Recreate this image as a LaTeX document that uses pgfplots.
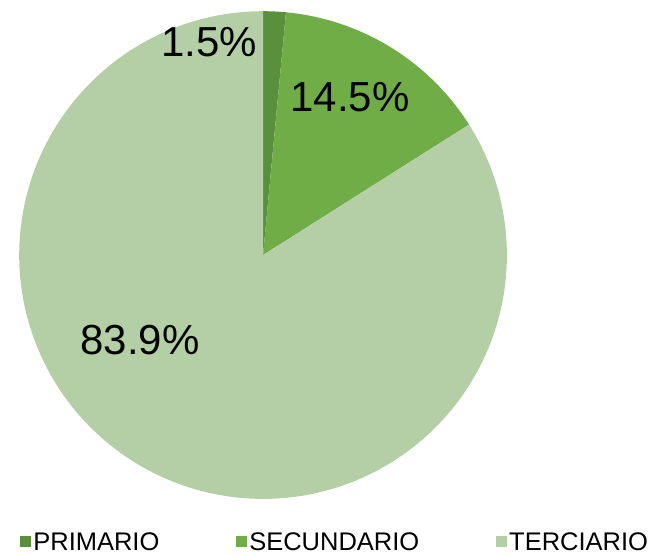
\documentclass[border=0pt]{standalone}
\usepackage{pgfplots}
\pgfplotsset{compat=1.18}
\usepackage{fontspec}
\setmainfont{Liberation Sans}
\definecolor{cPri}{HTML}{5A8F3C}
\definecolor{cSec}{HTML}{70AD47}
\definecolor{cTer}{HTML}{B4CEA6}
\begin{document}
\begin{tikzpicture}
\pgfmathsetmacro{\vA}{1.5}
\pgfmathsetmacro{\vB}{14.5}
\pgfmathsetmacro{\vC}{83.9}
\pgfmathsetmacro{\tot}{\vA+\vB+\vC}
\pgfmathsetmacro{\aA}{90}
\pgfmathsetmacro{\aB}{90-360*\vA/\tot}
\pgfmathsetmacro{\aC}{\aB-360*\vB/\tot}
\pgfmathsetmacro{\aD}{90-360}
\begin{axis}[
  x=1pt, y=1pt, xmin=0, xmax=658, ymin=0, ymax=555,
  hide axis, clip=false,
  legend columns=3,
  legend cell align=left,
  legend style={at={(axis cs:20,13)}, anchor=west, draw=none, fill=none,
    font=\fontsize{25.5}{29}\selectfont, inner sep=0pt,
    nodes={inner xsep=2pt, inner ysep=0pt},
    /tikz/every even column/.append style={column sep=75pt}},
  legend image code/.code={\fill[#1] (0pt,-5.5pt) rectangle (11pt,5.5pt);},
]
\draw[white, opacity=0] (axis cs:0,0) rectangle (axis cs:658,555);
\addplot[draw=none, fill=cPri, domain=\aB:\aA, samples=10, variable=\t]
  ({263+244*cos(\t)},{300+244*sin(\t)}) -- (axis cs:263,300) -- cycle;
\addlegendentry{PRIMARIO}
\addplot[draw=none, fill=cSec, domain=\aC:\aB, samples=60, variable=\t]
  ({263+244*cos(\t)},{300+244*sin(\t)}) -- (axis cs:263,300) -- cycle;
\addlegendentry{SECUNDARIO}
\addplot[draw=none, fill=cTer, domain=\aD:\aC, samples=240, variable=\t]
  ({263+244*cos(\t)},{300+244*sin(\t)}) -- (axis cs:263,300) -- cycle;
\addlegendentry{TERCIARIO}
\node[font=\fontsize{42}{46}\selectfont] at (axis cs:209,513) {1.5\%};
\node[font=\fontsize{42}{46}\selectfont] at (axis cs:350,458) {14.5\%};
\node[font=\fontsize{42}{46}\selectfont] at (axis cs:140,215) {83.9\%};
\end{axis}
\end{tikzpicture}
\end{document}
